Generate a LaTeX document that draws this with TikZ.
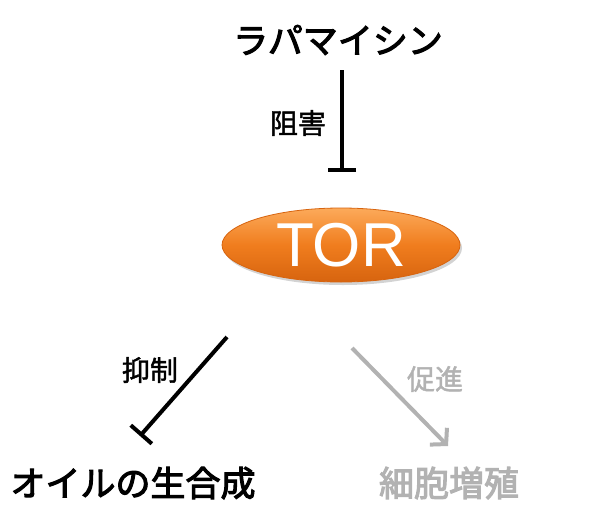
\documentclass[tikz,border=0pt]{standalone}
\usepackage{fontspec}
\setmainfont{Liberation Sans}
\newfontfamily\jpfont[FakeBold=3]{Noto Sans CJK JP}
\newfontfamily\jpsmall[FakeBold=1.5]{Noto Sans CJK JP}
\usetikzlibrary{arrows.meta,shapes.geometric,shadows,calc}

\definecolor{torlight}{RGB}{252,170,90}
\definecolor{tormid}{RGB}{240,125,30}
\definecolor{tordark}{RGB}{215,100,15}
\definecolor{promgray}{RGB}{178,178,178}

\tikzset{
  bigjp/.style={font=\jpfont\fontsize{35}{40}\selectfont, inner sep=0pt},
  smalljp/.style={font=\jpsmall\fontsize{28}{32}\selectfont, inner sep=0pt},
  inhibit/.style={line width=4pt, -{Bar[width=28pt,line width=4pt]}},
  promote/.style={line width=4pt, draw=promgray, -{Straight Barb[length=11pt,width=24pt,line width=4pt]}},
}

\begin{document}
\begin{tikzpicture}[x=1pt,y=-1pt]
            \useasboundingbox (0,0) rectangle (602,506);
            % nodes
            \node[bigjp] (rapa) at (338,40) {ラパマイシン};
            \node[ellipse, minimum width=238pt, minimum height=74pt, inner sep=0pt,
                  top color=torlight, bottom color=tordark, middle color=tormid,
                  draw=tordark, line width=0.8pt,
                  drop shadow={opacity=0.35,shadow xshift=2pt,shadow yshift=-3pt},
                  text=white, font=\fontsize{62}{62}\selectfont] (tor) at (341,245) {TOR};
            \node[bigjp] (oil) at (133,483) {オイルの生合成};
            \node[bigjp, text=promgray] (prolif) at (449,483) {細胞増殖};
            % connector ends
            \coordinate (rapaend) at (342,172);
            \coordinate (oilstart) at (227,337);
            \coordinate (oilend) at (140,436);
            \coordinate (prolstart) at (352,348);
            \coordinate (prolend) at (448,446);
            % connectors
            \draw[inhibit] (rapa.south) ++(4,15) -- (rapaend);
            \draw[inhibit] (oilstart) -- (oilend);
            \draw[promote] (prolstart) -- (prolend);
            % labels
            \node[smalljp] (sogai) at (298,123) {阻害};
            \node[smalljp] (yokusei) at (150,370) {抑制};
            \node[smalljp, text=promgray] (sokushin) at (435,379) {促進};
        \end{tikzpicture}
\end{document}
